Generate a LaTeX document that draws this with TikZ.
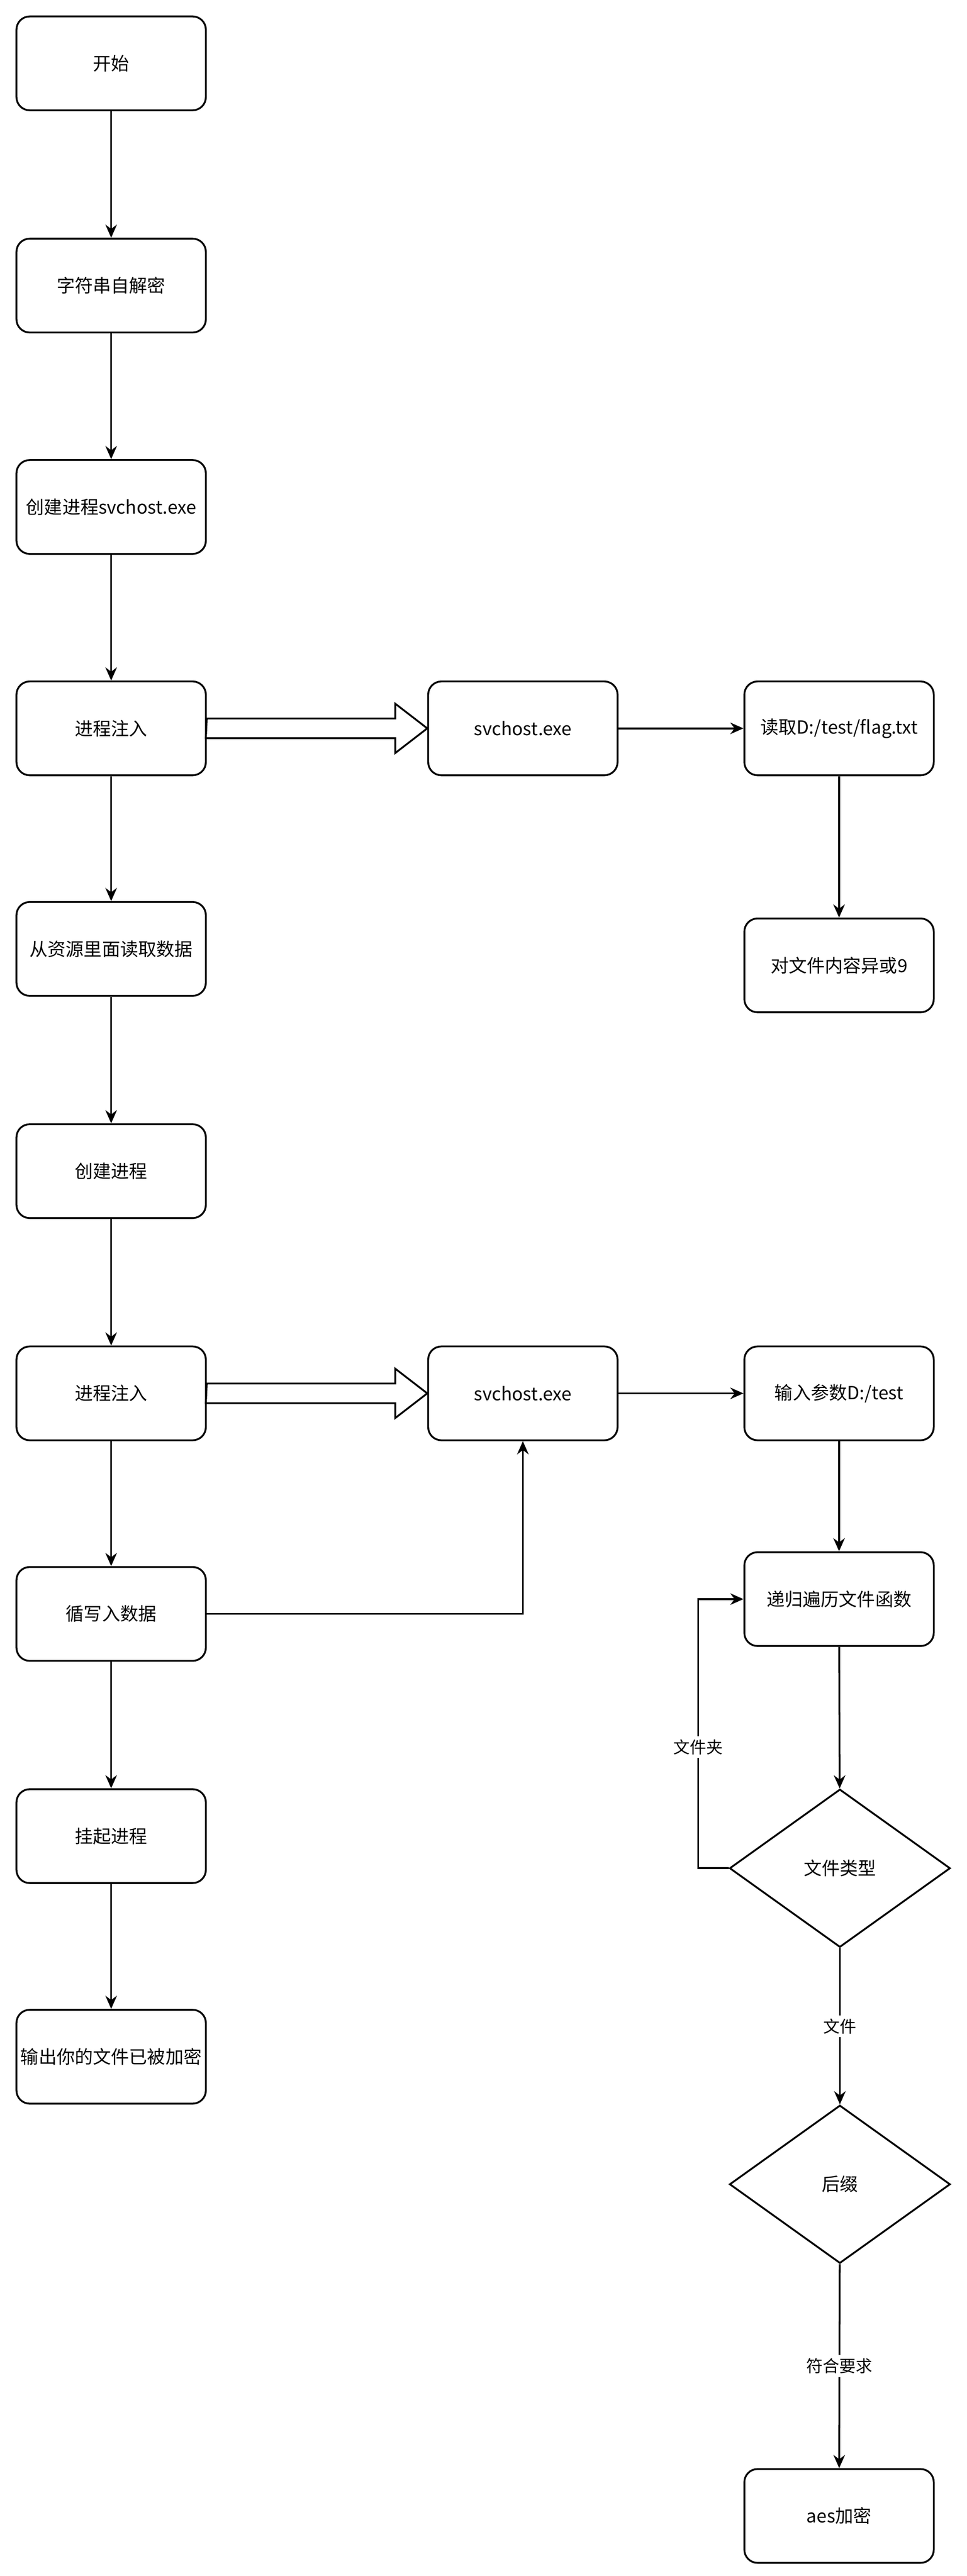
\documentclass[tikz,border=0pt]{standalone}
\usepackage{fontspec}
\setmainfont{Liberation Sans}
\newfontfamily\cjk{Noto Sans CJK SC}
\usetikzlibrary{shapes.geometric,arrows.meta}
\begin{document}
\begin{tikzpicture}[x=1pt,y=-1pt,
  box/.style={draw,line width=1.1pt,rounded corners=8pt,minimum width=115pt,minimum height=57pt,align=center,font=\cjk\fontsize{11}{14}\selectfont,inner sep=1pt,text width=113pt},
  dia/.style={draw,line width=1.1pt,diamond,aspect=1.4,minimum width=134pt,minimum height=96pt,font=\cjk\fontsize{11}{14}\selectfont,inner sep=0pt},
  arr/.style={line width=1.1pt,-{Stealth[length=8pt,width=7pt]}},
  lbl/.style={fill=white,font=\cjk\fontsize{10}{12}\selectfont,inner sep=2pt}]
\useasboundingbox (0,0) rectangle (587,1565);
\fill[white] (0,0) rectangle (587,1565);
\node[box] (a1) at (67.5,38.5) {开始};
\node[box] (a2) at (67.5,173.5) {字符串自解密};
\node[box] (a3) at (67.5,308) {创建进程svchost.exe};
\node[box] (a4) at (67.5,442.5) {进程注入};
\node[box] (a5) at (67.5,576.5) {从资源里面读取数据};
\node[box] (a6) at (67.5,711.5) {创建进程};
\node[box] (a7) at (67.5,846.5) {进程注入};
\node[box] (a8) at (67.5,980.5) {循写入数据};
\node[box] (a9) at (67.5,1115.5) {挂起进程};
\node[box] (a10) at (67.5,1249.5) {输出你的文件已被加密};
\node[box] (s1) at (317.5,442.5) {svchost.exe};
\node[box] (s2) at (317.5,846.5) {svchost.exe};
\node[box] (r1) at (509.5,442.5) {读取D:/test/flag.txt};
\node[box] (r2) at (509.5,586.5) {对文件内容异或9};
\node[box] (r3) at (509.5,846.5) {输入参数D:/test};
\node[box] (r4) at (509.5,971.5) {递归遍历文件函数};
\node[dia] (d1) at (510,1135) {文件类型};
\node[dia] (d2) at (510,1327) {后缀};
\node[box] (r5) at (509.5,1528.5) {aes加密};
\foreach \u/\v in {a1/a2,a2/a3,a3/a4,a4/a5,a5/a6,a6/a7,a7/a8,a8/a9,a9/a10,s1/r1,r1/r2,s2/r3,r3/r4,r4/d1}
  \draw[arr] (\u) -- (\v);
\draw[arr] (d1) -- node[lbl]{文件} (d2);
\draw[arr] (d2) -- node[lbl]{符合要求} (r5);
\draw[arr] (a8.east) -| (s2.south);
\draw[arr] (d1.west) -- (424,1135) -- node[lbl,pos=0.45]{文件夹} (424,971.5) -- (r4.west);
\foreach \y/\t in {442.5/s1,846.5/s2}
  \draw[line width=1.1pt,fill=white] (a4.east|-0,\y-6) -- (240,\y-6) -- (240,\y-15) -- (\t.west|-0,\y) -- (240,\y+15) -- (240,\y+6) -- (125,\y+6) -- cycle;
\end{tikzpicture}
\end{document}
